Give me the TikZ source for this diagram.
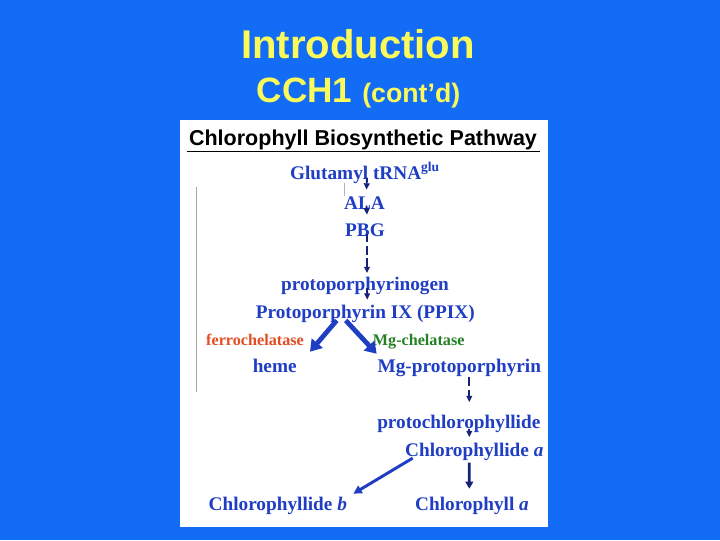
\documentclass[tikz,border=0pt]{standalone}
\usepackage{fontspec}
\setmainfont{Liberation Serif}
\setsansfont{Liberation Sans}
\usetikzlibrary{arrows.meta,positioning,calc}
\definecolor{slideblue}{RGB}{18,108,246}
\definecolor{titleyellow}{RGB}{250,250,90}
\definecolor{pathblue}{RGB}{32,62,196}
\definecolor{arrownavy}{RGB}{22,34,122}
\definecolor{ferrored}{RGB}{226,78,34}
\definecolor{mggreen}{RGB}{38,128,38}

\tikzset{
  mol/.style={font=\fontsize{13.7}{15}\selectfont\bfseries, text=pathblue, inner sep=0pt, anchor=base},
  enz/.style={font=\fontsize{11.5}{13}\selectfont\bfseries, inner sep=0pt, anchor=base},
  thin step/.style={-{Triangle[length=4.5pt,width=4pt]}, arrownavy, line width=1.3pt},
  dash step/.style={thin step, dash pattern=on 6pt off 2.8pt},
  big step/.style={-{Triangle[length=8pt,width=10pt]}, pathblue, line width=3.4pt}
}

\begin{document}
\begin{tikzpicture}[x=0.025cm,y=-0.025cm]
  \useasboundingbox (0,0) rectangle (720,540);
  \fill[slideblue] (0,0) rectangle (720,540);
  \fill[white] (180,120) rectangle (548,527);
  % title
  \node[titleyellow,font=\sffamily\bfseries\fontsize{28.5}{32}\selectfont,anchor=base,inner sep=0pt] (title) at (358,58.5) {Introduction};
  \node[titleyellow,font=\sffamily\bfseries,anchor=base,inner sep=0pt] (sub) at (358.5,102)
    {\fontsize{25}{28}\selectfont CCH1 \fontsize{19}{22}\selectfont(cont’d)};
  % panel heading
  \node[font=\sffamily\bfseries\fontsize{15.3}{18}\selectfont,anchor=base,inner sep=0pt] (head) at (363,145) {Chlorophyll Biosynthetic Pathway};
  \draw[line width=1.4pt] (187,151.5) -- (540,151.5);
  \draw[gray!70,line width=0.5pt] (196,187) -- (196,392);
  \draw[gray!60,line width=0.4pt] (344,183) -- (344,196);
  % molecules
  \node[mol] (glu) at (365,179) {Glutamyl tRNA\textsuperscript{glu}};
  \node[mol] (ala) at (364.5,209) {ALA};
  \node[mol] (pbg) at (365,236) {PBG};
  \node[mol] (pgen) at (365,290.7) {protoporphyrinogen};
  \node[mol] (ppix) at (365.3,318.3) {Protoporphyrin IX (PPIX)};
  \node[mol] (heme) at (274.7,372.7) {heme};
  \node[mol] (mgp) at (459.3,372.7) {Mg-protoporphyrin};
  \node[mol] (pchl) at (458.8,428.3) {protochlorophyllide};
  \node[mol] (chla) at (474.3,456) {Chlorophyllide \textit{a}};
  \node[mol] (chlb) at (277.8,510.7) {Chlorophyllide \textit{b}};
  \node[mol] (cla) at (472,510.7) {Chlorophyll \textit{a}};
  % enzymes
  \node[enz,ferrored] (ferro) at (255,345) {ferrochelatase};
  \node[enz,mggreen] (mgch) at (418.7,345) {Mg-chelatase};
  % steps
  \draw[thin step] ($(glu)+(2,5)$) -- ($(ala)+(2,-13)$);
  \draw[thin step] ($(ala)+(2,3)$) -- ($(pbg)+(2,-15)$);
  \draw[dash step] ($(pbg)+(2,4)$) -- ($(pgen)+(2,-13)$);
  \draw[thin step] ($(pgen)+(2,2)$) -- ($(ppix)+(2,-14)$);
  \draw[big step] ($(ppix)+(-28.6,6.7)$) -- ($(heme)+(35.3,-14.4)$);
  \draw[big step] ($(ppix)+(-19.6,6.7)$) -- ($(mgp)+(-82.6,-14.4)$);
  \draw[dash step] ($(mgp)+(10,9)$) -- ($(pchl)+(10.5,-21.6)$);
  \draw[thin step] ($(pchl)+(10.5,5.7)$) -- ($(chla)+(-5,-14.3)$);
  \draw[-{Triangle[length=6pt,width=6pt]},pathblue,line width=2.1pt] ($(chla)+(-61.6,6.7)$) -- ($(chlb)+(75.5,-12.4)$);
  \draw[-{Triangle[length=5pt,width=5.5pt]},arrownavy,line width=2pt] ($(chla)+(-5,11.3)$) -- ($(cla)+(-2.7,-17.4)$);
\end{tikzpicture}
\end{document}
